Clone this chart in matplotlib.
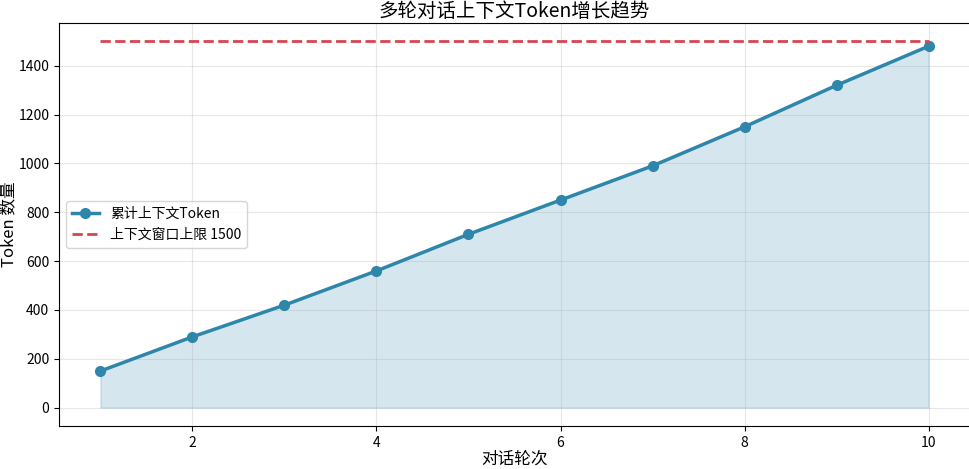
import matplotlib
matplotlib.use("Agg")
import matplotlib.pyplot as plt

plt.rcParams['font.family'] = ['Noto Sans CJK SC', 'DejaVu Sans']
plt.rcParams['axes.unicode_minus'] = False

rounds = [1, 2, 3, 4, 5, 6, 7, 8, 9, 10]
tokens = [150, 290, 420, 560, 710, 850, 990, 1150, 1320, 1480]
limit = 1500

fig = plt.figure(figsize=(9.69, 4.69), dpi=100)
ax = fig.add_axes([59 / 969, 1 - 426 / 469, 911 / 969, 403 / 469])

ax.plot(rounds, tokens, marker='o', color='#2E86AB', linewidth=2.5, markersize=7,
        label='累计上下文Token')
ax.fill_between(rounds, tokens, alpha=0.2, color='#2E86AB')
ax.plot(rounds, [limit] * len(rounds), linestyle='--', color='#D64550', linewidth=2,
        label=f'上下文窗口上限 {limit}')

ax.set_title('多轮对话上下文Token增长趋势', fontsize=14, pad=4)
ax.set_xlabel('对话轮次', fontsize=12, labelpad=1)
ax.set_ylabel('Token 数量', fontsize=12, labelpad=1)
ax.grid(True, alpha=0.3)
ax.legend(loc='center left', fontsize=10)

fig.savefig('out.png', dpi=100)
